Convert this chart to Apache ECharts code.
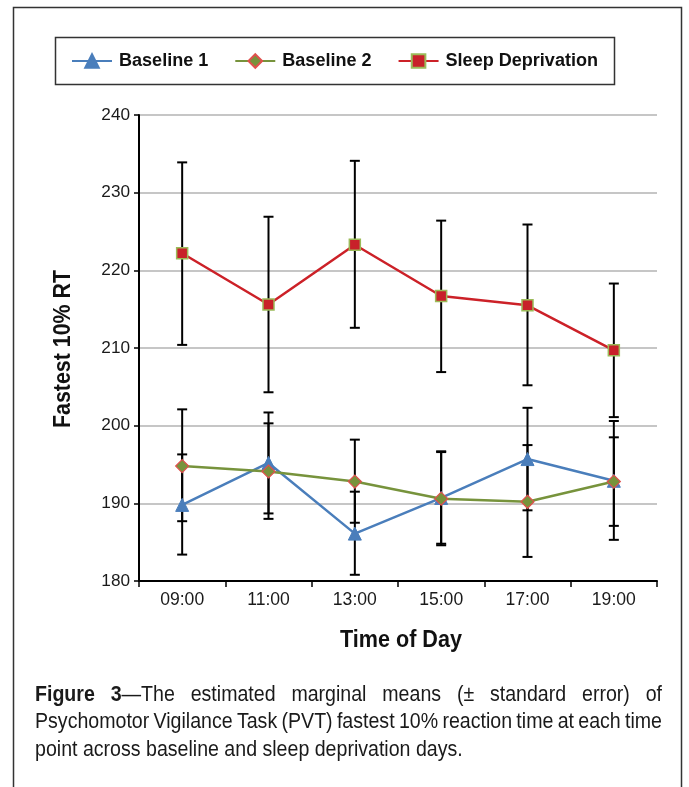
<!DOCTYPE html>
<html><head><meta charset="utf-8">
<script src="https://cdn.jsdelivr.net/npm/echarts@6/dist/echarts.min.js"></script>
<style>html,body{margin:0;padding:0;background:#fff;}#c{width:689px;height:787px;}</style>
</head><body><div id="c"></div>
<script>
// ---------- data ----------
const categories = ['09:00', '11:00', '13:00', '15:00', '17:00', '19:00'];
const seriesNames = ['Baseline 1', 'Baseline 2', 'Sleep Deprivation'];

const baseline1   = [189.8, 195.2, 186.1, 190.7, 195.7, 192.9];
const baseline1Hi = [196.3, 201.7, 191.5, 196.7, 202.3, 200.6];
const baseline1Lo = [183.4, 188.7, 180.8, 184.6, 189.1, 185.3];

const baseline2   = [194.8, 194.1, 192.8, 190.6, 190.2, 192.8];
const baseline2Hi = [202.1, 200.3, 198.2, 196.6, 197.5, 198.5];
const baseline2Lo = [187.7, 188.0, 187.5, 184.8, 183.1, 187.1];

const sleepDep    = [222.2, 215.6, 223.3, 216.7, 215.5, 209.7];
const sleepDepHi  = [233.9, 226.9, 234.1, 226.4, 225.9, 218.3];
const sleepDepLo  = [210.4, 204.3, 212.6, 206.9, 205.2, 201.1];

const yMin = 180, yMax = 240, yStep = 10;
const yTitle = 'Fastest 10% RT';
const xTitle = 'Time of Day';
const captionLines = [
  'Figure 3\u2014The estimated marginal means (\u00b1 standard error) of',
  'Psychomotor Vigilance Task (PVT) fastest 10% reaction time at each time',
  'point across baseline and sleep deprivation days.'
];
const captionBoldPrefix = 'Figure 3';

// ---------- helpers ----------
const FAM = '"Liberation Sans", Arial, Helvetica, sans-serif';
const cv = document.createElement('canvas').getContext('2d');
function measure(t, w, s) { cv.font = w + ' ' + s + 'px ' + FAM; return cv.measureText(t).width; }
function fit(t, w, target) { return 100 * target / measure(t, w, 100); }

const ySize = fit('240', 'normal', 28.7);
const xSize = fit('09:00', 'normal', 44);
const legSize = fit('Sleep Deprivation', 'bold', 152.5);
const yTitleSize = fit(yTitle, 'bold', 158);
const xTitleSize = fit(xTitle, 'bold', 122);
const capSize = fit(captionLines[2], 'normal', 428);

// caption graphic (justified lines 1-2)
const capX0 = 35, capX1 = 662, capY = [695, 722, 750];
const graphics = [];
captionLines.forEach((line, li) => {
  const words = line.split(' ');
  const toks = [];
  let o = (li === 0) ? 0 : 1e9;
  words.forEach(wd => {
    const nb = Math.max(0, Math.min(wd.length, captionBoldPrefix.length - o));
    const segs = [];
    if (nb > 0) segs.push({ t: wd.slice(0, nb), w: 'bold' });
    if (nb < wd.length) segs.push({ t: wd.slice(nb), w: 'normal' });
    segs.forEach(s => s.width = measure(s.t, s.w, capSize));
    toks.push({ segs, width: segs.reduce((a, s) => a + s.width, 0) });
    o += wd.length + 1;
  });
  const total = toks.reduce((a, t) => a + t.width, 0);
  const justify = li < 2;
  const gap = justify ? (capX1 - capX0 - total) / (toks.length - 1) : measure(' ', 'normal', capSize);
  let x = capX0;
  toks.forEach(tk => {
    let sx = x;
    tk.segs.forEach(s => {
      graphics.push({ type: 'text', x: sx, y: capY[li], scaleY: 1.1, silent: true,
        style: { text: s.t, fontSize: capSize, fontFamily: FAM, fontWeight: s.w, fill: '#1a1a1a',
                 align: 'left', verticalAlign: 'middle', textAlign: 'left', textVerticalAlign: 'middle' } });
      sx += s.width;
    });
    x += tk.width + gap;
  });
});

// frame + legend box + axis titles
graphics.push({ type: 'rect', silent: true, shape: { x: 13.5, y: 7.5, width: 668, height: 820 },
  style: { fill: 'none', stroke: '#333', lineWidth: 1.5 }, z: -10 });
graphics.push({ type: 'rect', silent: true, shape: { x: 55.5, y: 37.5, width: 559, height: 47 },
  style: { fill: 'none', stroke: '#333', lineWidth: 1.5 } });
graphics.push({ type: 'text', x: 63, y: 349, rotation: Math.PI / 2, scaleY: 1.15, silent: true,
  style: { text: yTitle, fontSize: yTitleSize, fontFamily: FAM, fontWeight: 'bold', fill: '#111',
           align: 'center', verticalAlign: 'middle', textAlign: 'center', textVerticalAlign: 'middle' } });
graphics.push({ type: 'text', x: 401, y: 640, scaleY: 1.15, silent: true,
  style: { text: xTitle, fontSize: xTitleSize, fontFamily: FAM, fontWeight: 'bold', fill: '#111',
           align: 'center', verticalAlign: 'middle', textAlign: 'center', textVerticalAlign: 'middle' } });

function errData(lo, hi) { return categories.map((c, i) => [i, lo[i], hi[i]]); }
function errSeries(lo, hi) {
  return {
    type: 'custom', silent: true, z: 1, data: errData(lo, hi), encode: { x: 0, y: [1, 2] },
    renderItem: (params, api) => {
      const a = api.coord([api.value(0), api.value(1)]);
      const b = api.coord([api.value(0), api.value(2)]);
      const hw = 5;
      const st = { stroke: '#000', lineWidth: 2 };
      return { type: 'group', children: [
        { type: 'line', shape: { x1: a[0], y1: a[1], x2: b[0], y2: b[1] }, style: st },
        { type: 'line', shape: { x1: a[0] - hw, y1: a[1], x2: a[0] + hw, y2: a[1] }, style: st },
        { type: 'line', shape: { x1: b[0] - hw, y1: b[1], x2: b[0] + hw, y2: b[1] }, style: st }
      ] };
    }
  };
}

const chart = echarts.init(document.getElementById('c'), null, { renderer: 'canvas' });
chart.setOption({
  backgroundColor: '#fff',
  animation: false,
  graphic: graphics,
  grid: { left: 139, right: 32, top: 115, bottom: 206, containLabel: false },
  legend: {
    data: seriesNames, left: 71, top: 52, padding: 0, itemWidth: 40, itemHeight: 17, itemGap: 26,
    textStyle: { fontSize: legSize, fontFamily: FAM, fontWeight: 'bold', color: '#111', padding: [0, 0, 0, 2] }
  },
  xAxis: {
    type: 'category', data: categories, boundaryGap: true,
    axisLine: { lineStyle: { color: '#000', width: 2 } },
    axisTick: { show: true, interval: 0, length: 6, lineStyle: { color: '#000', width: 1.5 } },
    axisLabel: { fontSize: xSize, fontFamily: FAM, color: '#1a1a1a', margin: 10 },
    splitLine: { show: false }
  },
  yAxis: {
    type: 'value', min: yMin, max: yMax, interval: yStep,
    axisLine: { show: true, lineStyle: { color: '#000', width: 2 } },
    axisTick: { show: true, length: 5, lineStyle: { color: '#000', width: 1.5 } },
    axisLabel: { fontSize: ySize, fontFamily: FAM, color: '#1a1a1a', margin: 9 },
    splitLine: { show: true, lineStyle: { color: '#b3b3b3', width: 1.5 } }
  },
  series: [
    errSeries(baseline1Lo, baseline1Hi),
    errSeries(baseline2Lo, baseline2Hi),
    errSeries(sleepDepLo, sleepDepHi),
    { name: seriesNames[0], type: 'line', data: baseline1, z: 3, symbol: 'triangle', symbolSize: 13,
      lineStyle: { color: '#4A7EBB', width: 2.5 }, itemStyle: { color: '#4A7EBB', borderColor: '#4A7EBB', borderWidth: 1 } },
    { name: seriesNames[1], type: 'line', data: baseline2, z: 4, symbol: 'diamond', symbolSize: 13,
      lineStyle: { color: '#77933C', width: 2.5 }, itemStyle: { color: '#77933C', borderColor: '#E0504D', borderWidth: 1.2 } },
    { name: seriesNames[2], type: 'line', data: sleepDep, z: 5, symbol: 'rect', symbolSize: 11,
      lineStyle: { color: '#CC2128', width: 2.5 }, itemStyle: { color: '#C8202A', borderColor: '#9BBB59', borderWidth: 1.5 } }
  ]
});
</script></body></html>
